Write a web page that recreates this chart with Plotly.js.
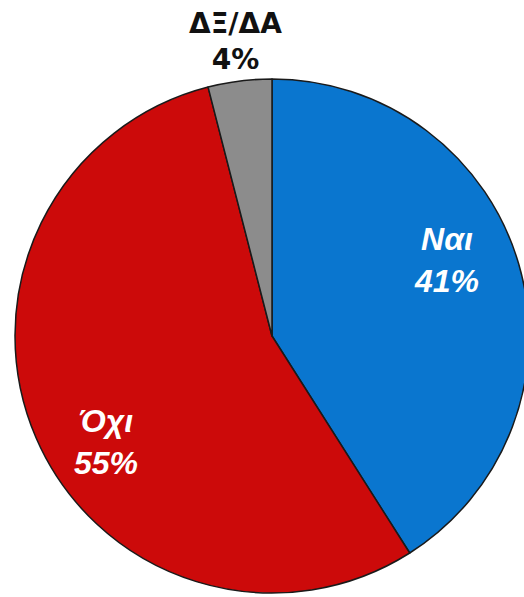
<!DOCTYPE html>
<html>
<head>
<meta charset="utf-8">
<script src="https://cdn.plot.ly/plotly-3.0.1.min.js"></script>
<style>
html,body{margin:0;padding:0;overflow:hidden;background:#fff;}
#chart{width:544px;height:597px;}
</style>
</head>
<body>
<div id="chart"></div>
<script>
const labels = ['Ναι', 'Όχι', 'ΔΞ/ΔΑ'];
const values = [41, 55, 4];
const colors = ['#0A76CF', '#CC0A0A', '#8C8C8C'];

const W = 544, H = 597;
const cx = 272, cy = 336, r = 257;

const trace = {
  type: 'pie',
  labels: labels,
  values: values,
  sort: false,
  direction: 'clockwise',
  rotation: 0,
  marker: {colors: colors, line: {color: '#1a1a1a', width: 1.5}},
  textinfo: 'none',
  hoverinfo: 'none',
  showlegend: false,
  domain: {
    x: [(cx - r) / W, (cx + r) / W],
    y: [(H - cy - r) / H, (H - cy + r) / H]
  }
};

// label block centres in page pixels (layout only)
const labelPos = [[446, 260], [106, 442], [235, 42]];
const insideFont = {family: 'Liberation Sans', size: 32, color: '#ffffff', weight: 'bold', style: 'italic'};
const outsideFont = {family: 'DejaVu Sans', size: 28, color: '#111111', weight: 'bold'};

const annotations = labels.map((lab, i) => ({
  xref: 'paper', yref: 'paper',
  x: labelPos[i][0] / W,
  y: 1 - labelPos[i][1] / H,
  xanchor: 'center', yanchor: 'middle',
  showarrow: false,
  align: 'center',
  text: lab + '<br>' + values[i] + '%',
  font: i === 2 ? outsideFont : insideFont
}));

const layout = {
  width: W,
  height: H,
  margin: {l: 0, r: 0, t: 0, b: 0},
  paper_bgcolor: '#ffffff',
  showlegend: false,
  annotations: annotations
};

Plotly.newPlot('chart', [trace], layout, {displayModeBar: false, staticPlot: true});
</script>
</body>
</html>
